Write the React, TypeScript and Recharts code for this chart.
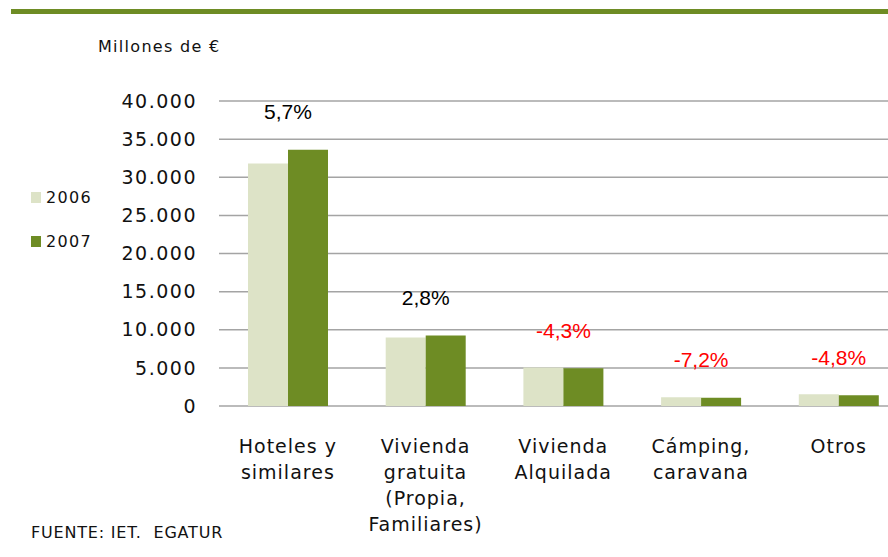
import { Bar, BarChart, CartesianGrid, LabelList, XAxis, YAxis } from "recharts";

const categories = [
  "Hoteles y|similares",
  "Vivienda|gratuita|(Propia,|Familiares)",
  "Vivienda|Alquilada",
  "Cámping,|caravana",
  "Otros",
];
const gasto2006 = [31800, 9000, 5050, 1150, 1550];
const gasto2007 = [33600, 9250, 4950, 1070, 1400];
const variacion = ["5,7%", "2,8%", "-4,3%", "-7,2%", "-4,8%"];
const yTicks = [0, 5000, 10000, 15000, 20000, 25000, 30000, 35000, 40000];

const data = categories.map((c, i) => ({
  cat: c,
  y2006: gasto2006[i],
  y2007: gasto2007[i],
  pct: variacion[i],
}));

const LIGHT = "#dde3c7";
const GREEN = "#6e8c24";
const TEXT = "#111";
const FONT = "'DejaVu Sans', sans-serif";

const fmt = (v: number) => v.toLocaleString("de-DE");

function CatTick({ x, y, payload }: any) {
  const lines = String(payload.value).split("|");
  return (
    <text
      x={x}
      y={y + 39}
      textAnchor="middle"
      fill={TEXT}
      fontSize={19}
      fontFamily={FONT}
      letterSpacing={1}
    >
      {lines.map((l, i) => (
        <tspan key={i} x={x} dy={i === 0 ? 0 : 26}>
          {l}
        </tspan>
      ))}
    </text>
  );
}

function PctLabel({ x, y, index }: any) {
  const txt = variacion[index];
  return (
    <text
      x={x}
      y={y - 38}
      textAnchor="middle"
      dominantBaseline="central"
      fontSize={21}
      fontFamily="'Liberation Sans', Arial, sans-serif"
      fill={txt.startsWith("-") ? "#ff0000" : "#000000"}
    >
      {txt}
    </text>
  );
}

function LegendItem({ color, label, top }: { color: string; label: string; top: number }) {
  return (
    <div style={{ position: "absolute", left: 31, top, display: "flex", alignItems: "center" }}>
      <div style={{ width: 10, height: 11, background: color }} />
      <span style={{ marginLeft: 5, fontSize: 16, letterSpacing: 1.3, color: TEXT }}>{label}</span>
    </div>
  );
}

export default function App() {
  return (
    <div
      style={{
        position: "absolute",
        left: 0,
        top: 0,
        width: 888,
        height: 557,
        overflow: "hidden",
        background: "#fff",
        fontFamily: FONT,
      }}
    >
      <div style={{ position: "absolute", left: 11, top: 9, width: 877, height: 5, background: GREEN }} />
      <div style={{ position: "absolute", left: 98, top: 37, fontSize: 16, letterSpacing: 1.3, color: TEXT }}>
        Millones de €
      </div>
      <BarChart
        width={920}
        height={557}
        data={data}
        margin={{ top: 101, right: 12.5, left: 0, bottom: 0 }}
        barGap={0}
        barCategoryGap={29}
      >
        <CartesianGrid vertical={false} stroke="#a4a4a4" strokeWidth={1.5} />
        <XAxis
          dataKey="cat"
          axisLine={false}
          tickLine={false}
          height={151}
          interval={0}
          tick={<CatTick />}
        />
        <YAxis
          width={219}
          domain={[0, 40000]}
          ticks={yTicks}
          axisLine={false}
          tickLine={false}
          tickSize={0}
          tickMargin={22}
          tickFormatter={fmt}
          tick={{ fill: TEXT, fontSize: 19, fontFamily: FONT, letterSpacing: 1.5 }}
        />
        <Bar dataKey="y2006" fill={LIGHT} isAnimationActive={false} />
        <Bar dataKey="y2007" fill={GREEN} isAnimationActive={false}>
          <LabelList dataKey="pct" content={<PctLabel />} />
        </Bar>
      </BarChart>
      <LegendItem color={LIGHT} label="2006" top={188} />
      <LegendItem color={GREEN} label="2007" top={232} />
      <div style={{ position: "absolute", left: 31, top: 523, fontSize: 16, letterSpacing: 0.8, color: TEXT }}>
        FUENTE: IET.&nbsp; EGATUR
      </div>
    </div>
  );
}
